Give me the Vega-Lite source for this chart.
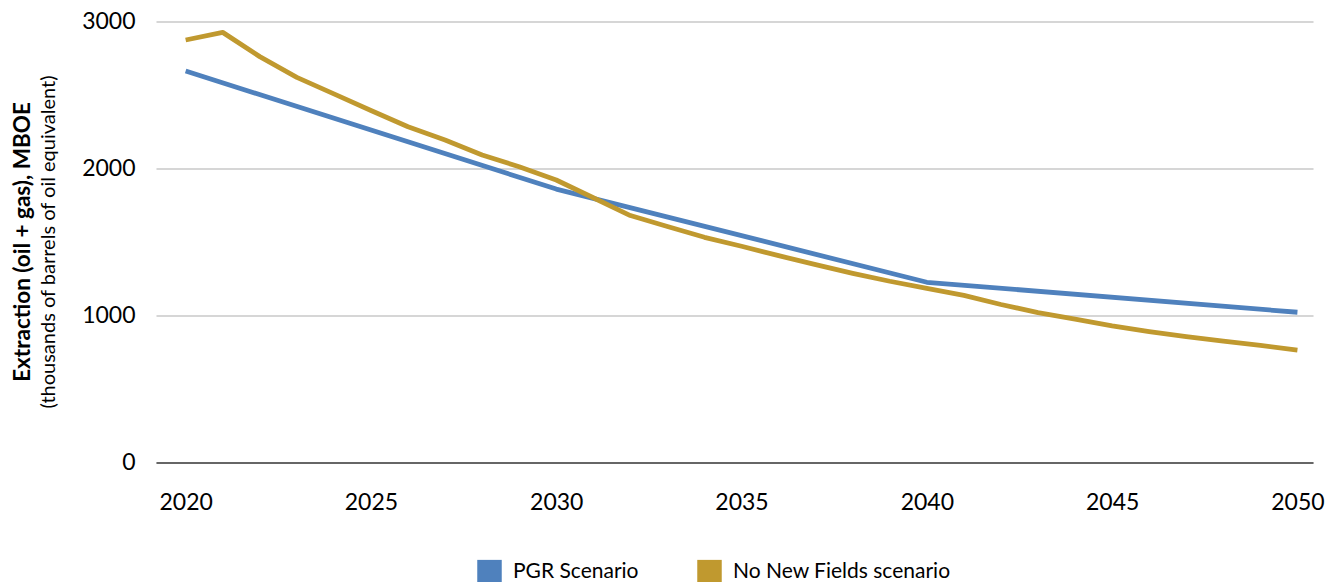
{
  "$schema": "https://vega.github.io/schema/vega-lite/v6.json",
  "width": 1157,
  "height": 441,
  "autosize": {"type": "none"},
  "padding": {"left": 156, "top": 21.5, "right": 25, "bottom": 119.5},
  "background": "white",
  "config": {
    "view": {"stroke": null},
    "font": "Lato",
    "axis": {"labelFont": "Lato", "titleFont": "Lato"},
    "legend": {"labelFont": "Lato"}
  },
  "data": {
    "values": [
      {"year": 2020, "scenario": "PGR Scenario", "value": 2663},
      {"year": 2030, "scenario": "PGR Scenario", "value": 1860},
      {"year": 2040, "scenario": "PGR Scenario", "value": 1226},
      {"year": 2050, "scenario": "PGR Scenario", "value": 1022},
      {"year": 2020, "scenario": "No New Fields scenario", "value": 2874},
      {"year": 2021, "scenario": "No New Fields scenario", "value": 2926},
      {"year": 2022, "scenario": "No New Fields scenario", "value": 2761},
      {"year": 2023, "scenario": "No New Fields scenario", "value": 2620},
      {"year": 2024, "scenario": "No New Fields scenario", "value": 2508},
      {"year": 2025, "scenario": "No New Fields scenario", "value": 2395},
      {"year": 2026, "scenario": "No New Fields scenario", "value": 2284},
      {"year": 2027, "scenario": "No New Fields scenario", "value": 2194},
      {"year": 2028, "scenario": "No New Fields scenario", "value": 2092},
      {"year": 2029, "scenario": "No New Fields scenario", "value": 2012},
      {"year": 2030, "scenario": "No New Fields scenario", "value": 1922},
      {"year": 2031, "scenario": "No New Fields scenario", "value": 1801},
      {"year": 2032, "scenario": "No New Fields scenario", "value": 1680},
      {"year": 2033, "scenario": "No New Fields scenario", "value": 1605},
      {"year": 2034, "scenario": "No New Fields scenario", "value": 1532},
      {"year": 2035, "scenario": "No New Fields scenario", "value": 1471},
      {"year": 2036, "scenario": "No New Fields scenario", "value": 1407},
      {"year": 2037, "scenario": "No New Fields scenario", "value": 1346},
      {"year": 2038, "scenario": "No New Fields scenario", "value": 1287},
      {"year": 2039, "scenario": "No New Fields scenario", "value": 1233},
      {"year": 2040, "scenario": "No New Fields scenario", "value": 1185},
      {"year": 2041, "scenario": "No New Fields scenario", "value": 1137},
      {"year": 2042, "scenario": "No New Fields scenario", "value": 1075},
      {"year": 2043, "scenario": "No New Fields scenario", "value": 1019},
      {"year": 2044, "scenario": "No New Fields scenario", "value": 976},
      {"year": 2045, "scenario": "No New Fields scenario", "value": 929},
      {"year": 2046, "scenario": "No New Fields scenario", "value": 890},
      {"year": 2047, "scenario": "No New Fields scenario", "value": 856},
      {"year": 2048, "scenario": "No New Fields scenario", "value": 826},
      {"year": 2049, "scenario": "No New Fields scenario", "value": 797},
      {"year": 2050, "scenario": "No New Fields scenario", "value": 765}
    ]
  },
  "resolve": {"axis": {"x": "independent", "y": "independent"}},
  "layer": [
    {
      "mark": {"type": "line", "strokeWidth": 4.8, "strokeJoin": "round", "strokeCap": "butt"},
      "encoding": {
        "x": {
          "field": "year", "type": "quantitative",
          "scale": {"domain": [2019.2, 2050.42], "nice": false, "zero": false},
          "axis": {
            "orient": "bottom",
            "values": [2020, 2025, 2030, 2035, 2040, 2045, 2050],
            "format": "d", "title": null, "grid": false, "ticks": false,
            "domainColor": "#404040", "domainWidth": 1.5,
            "labelFontSize": 23, "labelColor": "#000000", "labelPadding": 29,
            "labelFlush": false
          }
        },
        "y": {
          "field": "value", "type": "quantitative",
          "scale": {"domain": [0, 3000], "nice": false},
          "axis": {
            "orient": "left",
            "values": [0, 1000, 2000, 3000], "format": "d",
            "domain": false, "ticks": false,
            "gridColor": "#c8c8c8", "gridWidth": 1.3,
            "labelFontSize": 23, "labelColor": "#000000", "labelPadding": 21,
            "title": "Extraction (oil + gas), MBOE",
            "titleFontSize": 22.5, "titleFontWeight": "bold", "titleColor": "#000000",
            "titleAngle": -90, "titleBaseline": "alphabetic", "titleAlign": "center",
            "titleX": -127, "titleY": 220
          }
        },
        "color": {
          "field": "scenario", "type": "nominal",
          "scale": {"domain": ["PGR Scenario", "No New Fields scenario"], "range": ["#4f81bd", "#c0992f"]},
          "legend": {
            "title": null, "orient": "none", "direction": "horizontal",
            "legendX": 321, "legendY": 538,
            "symbolType": "square", "symbolSize": 600,
            "labelFontSize": 21, "labelColor": "#000000", "labelOffset": 11,
            "labelLimit": 0,
            "columnPadding": 58,
            "encode": {
              "symbols": {
                "update": {
                  "fill": {"scale": "color", "field": "value"},
                  "fillOpacity": {"value": 1},
                  "strokeWidth": {"value": 0}
                }
              }
            }
          }
        }
      }
    },
    {
      "mark": {"type": "line", "opacity": 0, "strokeWidth": 0},
      "encoding": {
        "x": {"field": "year", "type": "quantitative", "axis": null},
        "y": {
          "field": "value", "type": "quantitative",
          "axis": {
            "orient": "left", "labels": false, "ticks": false, "domain": false, "grid": false,
            "title": "(thousands of barrels of oil equivalent)",
            "titleFontSize": 20, "titleFontWeight": "normal", "titleColor": "#000000",
            "titleAngle": -90, "titleBaseline": "alphabetic", "titleAlign": "center",
            "titleX": -101.5, "titleY": 220
          }
        },
        "detail": {"field": "scenario", "type": "nominal"}
      }
    }
  ]
}
